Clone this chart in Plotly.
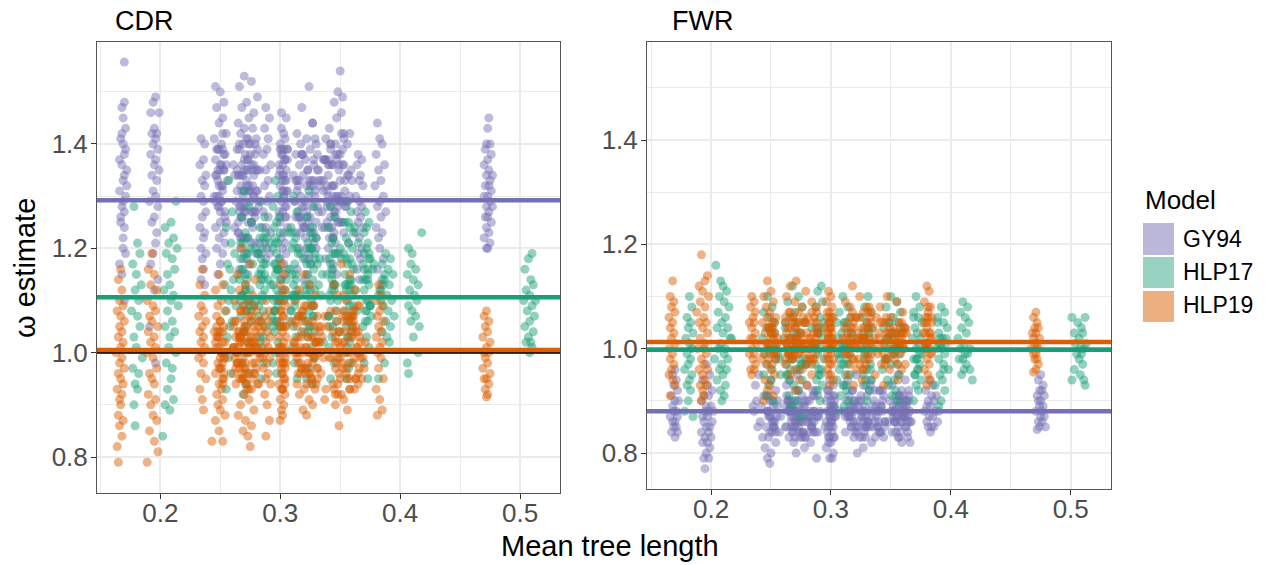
import plotly.graph_objects as go

# ---------------- data ----------------
models = ["GY94", "HLP17", "HLP19"]
model_colors = ["#7570B3", "#1B9E77", "#D95F02"]
legend_fill = ["rgba(117,112,179,0.5)", "rgba(27,158,119,0.45)", "rgba(217,95,2,0.5)"]
panels = ["CDR", "FWR"]

# model mean lines (omega)
cdr_means = [1.292, 1.106, 1.005]
fwr_means = [0.880, 0.998, 1.013]
neutral_line = 1.0

x_ticks = [0.2, 0.3, 0.4, 0.5]
y_ticks = [0.8, 1.0, 1.2, 1.4]

# ---- CDR, GY94 ----
cdr_gy94_y = [
 1.557,1.48,1.47,1.45,1.43,1.41,1.40,1.38,1.36,1.35,
 1.33,1.31,1.30,1.28,1.27,1.25,1.22,1.19,1.15,1.10,
 1.42,1.39,1.37,1.34,1.32,1.29,1.26,1.24,1.20,1.17,
 1.49,1.48,1.46,1.46,1.43,1.42,1.42,1.41,1.40,1.39,
 1.38,1.37,1.36,1.35,1.34,1.33,1.31,1.30,1.29,1.28,
 1.26,1.25,1.23,1.21,1.19,1.17,1.14,1.12,1.05,0.98,
 1.41,1.40,1.37,1.36,1.34,1.33,1.32,1.30,1.29,1.27,
 1.26,1.24,1.23,1.22,1.20,1.19,1.18,1.16,1.14,1.13,
 1.51,1.50,1.48,1.47,1.45,1.44,1.42,1.41,1.40,1.39,
 1.38,1.37,1.36,1.35,1.34,1.33,1.32,1.31,1.30,1.29,
 1.28,1.27,1.25,1.24,1.23,1.22,1.20,1.19,1.17,1.15,
 1.53,1.52,1.51,1.49,1.48,1.47,1.46,1.45,1.44,1.43,
 1.43,1.42,1.41,1.41,1.40,1.40,1.39,1.38,1.38,1.37,
 1.36,1.36,1.35,1.34,1.34,1.33,1.32,1.31,1.31,1.30,
 1.29,1.28,1.28,1.27,1.26,1.25,1.24,1.23,1.22,1.21,
 1.20,1.19,1.19,1.18,1.17,1.16,1.15,1.30,1.35,1.39,
 1.47,1.45,1.43,1.41,1.39,1.38,1.36,1.35,1.33,1.32,
 1.30,1.29,1.27,1.26,1.24,1.23,1.21,1.20,1.19,1.18,
 1.46,1.45,1.42,1.40,1.39,1.38,1.37,1.36,1.35,1.34,
 1.33,1.32,1.31,1.30,1.29,1.28,1.27,1.26,1.25,1.24,
 1.23,1.22,1.21,1.20,1.19,1.18,1.17,1.15,1.14,1.12,
 1.51,1.47,1.44,1.42,1.41,1.40,1.40,1.39,1.38,1.37,
 1.37,1.36,1.35,1.35,1.34,1.33,1.33,1.32,1.31,1.30,
 1.30,1.29,1.28,1.28,1.27,1.26,1.25,1.25,1.24,1.23,
 1.22,1.21,1.20,1.19,1.18,1.17,1.16,1.15,1.14,1.27,
 1.54,1.50,1.49,1.48,1.46,1.45,1.43,1.42,1.41,1.40,
 1.39,1.38,1.37,1.36,1.35,1.34,1.33,1.32,1.31,1.30,
 1.29,1.28,1.27,1.26,1.25,1.24,1.23,1.22,1.21,1.20,
 1.19,1.18,1.17,1.16,1.15,1.36,1.32,1.28,1.25,1.22,
 1.38,1.37,1.36,1.34,1.33,1.32,1.30,1.29,1.28,1.27,
 1.26,1.25,1.24,1.23,1.22,1.20,1.19,1.18,1.16,1.14,
 1.44,1.41,1.40,1.38,1.36,1.35,1.33,1.32,1.30,1.29,
 1.28,1.27,1.26,1.24,1.23,1.22,1.20,1.18,1.16,1.13,
 1.45,1.43,1.40,1.40,1.39,1.38,1.37,1.36,1.35,1.34,
 1.34,1.33,1.32,1.32,1.31,1.30,1.30,1.29,1.28,1.28,
 1.27,1.26,1.26,1.25,1.24,1.23,1.22,1.21,1.20,1.20,
 1.36,1.31,1.25,1.39,1.28,1.33,1.22,1.41,1.30,1.35,
 1.27,1.38,1.24,1.32,1.37,1.29,1.21,1.34,1.40,1.26,
 1.33,1.23,1.36,1.30,1.39,1.27,1.35,1.31,1.25,1.38,
 1.29,1.34,1.42,1.26,1.32,1.37,1.24,1.30,1.36,1.28,
 1.35,1.22,1.31,1.39,1.27,1.33,1.38,1.25,1.29,1.34,
 1.31,1.37,1.26,1.32,1.40,1.28,1.35,1.23,1.30,1.36,
 1.24,1.33,1.38,1.29,1.35,1.27,1.31,1.41,1.26,1.32,
 1.37,1.30,1.25,1.34,1.28,1.39,1.33,1.22,1.36,1.29,
 1.32,1.27,1.35,1.31,1.38,1.24,1.30,1.34,1.28,1.37,
 1.26,1.33,1.29,1.36,1.31,1.25,1.39,1.32,1.27,1.35,
 1.30,1.35,1.22,1.40,1.27,1.33,1.18,1.37,1.25,1.42,
 1.32,1.28,1.38,1.21,1.34,1.26,1.41,1.29,1.36,1.23,
 1.39,1.24,1.31,1.27,1.43,1.34,1.20,1.37,1.29,1.33,
 1.26,1.40,1.35,1.19,1.31,1.38,1.28,1.24,1.36,1.32,
 1.34,1.29,1.22,1.39,1.26,1.31,1.44,1.27,1.33,1.21,
 1.38,1.25,1.32,1.36,1.28,1.23,1.35,1.40,1.30,1.26,
 1.27,1.36,1.41,1.24,1.33,1.29,1.20,1.37,1.31,1.35,
 1.33,1.22,1.28,1.35,1.39,1.32,1.26,1.30,1.42,1.24,
 1.36,1.31,1.25,1.29,1.34,1.38,1.23,1.33,1.27,1.40,
 1.29,1.34,1.37,1.21,1.30,1.26,1.35,1.32,1.39,1.28,
]
cdr_gy94_x = [
 0.170,0.170,0.168,0.169,0.171,0.167,0.169,0.170,0.168,0.172,
 0.169,0.166,0.171,0.168,0.170,0.167,0.169,0.171,0.168,0.170,
 0.168,0.171,0.166,0.170,0.172,0.169,0.167,0.170,0.169,0.166,
 0.196,0.194,0.199,0.192,0.195,0.197,0.193,0.196,0.194,0.198,
 0.192,0.196,0.195,0.199,0.193,0.197,0.194,0.196,0.191,0.198,
 0.195,0.193,0.197,0.196,0.194,0.192,0.198,0.195,0.191,0.196,
 0.234,0.237,0.236,0.233,0.238,0.235,0.237,0.234,0.236,0.238,
 0.235,0.233,0.237,0.236,0.234,0.238,0.235,0.236,0.234,0.237,
 0.246,0.250,0.253,0.247,0.252,0.249,0.255,0.245,0.251,0.248,
 0.254,0.246,0.250,0.253,0.247,0.256,0.249,0.252,0.245,0.251,
 0.248,0.254,0.250,0.246,0.253,0.249,0.247,0.252,0.250,0.248,
 0.270,0.276,0.266,0.281,0.272,0.268,0.278,0.274,0.265,0.270,
 0.277,0.267,0.273,0.280,0.269,0.275,0.266,0.271,0.279,0.273,
 0.268,0.276,0.270,0.265,0.278,0.272,0.267,0.274,0.281,0.269,
 0.275,0.266,0.271,0.279,0.268,0.273,0.277,0.265,0.270,0.276,
 0.267,0.272,0.280,0.269,0.274,0.266,0.271,0.278,0.283,0.264,
 0.288,0.291,0.287,0.290,0.289,0.286,0.292,0.288,0.290,0.287,
 0.291,0.289,0.286,0.290,0.288,0.292,0.287,0.289,0.291,0.288,
 0.301,0.305,0.303,0.300,0.306,0.302,0.304,0.299,0.305,0.302,
 0.304,0.300,0.306,0.303,0.301,0.305,0.302,0.304,0.300,0.306,
 0.303,0.301,0.304,0.302,0.305,0.300,0.303,0.304,0.301,0.302,
 0.324,0.318,0.327,0.314,0.322,0.330,0.317,0.325,0.313,0.321,
 0.328,0.316,0.323,0.331,0.319,0.326,0.314,0.322,0.329,0.317,
 0.324,0.312,0.320,0.327,0.315,0.323,0.330,0.318,0.325,0.313,
 0.321,0.328,0.316,0.324,0.319,0.326,0.314,0.322,0.320,0.332,
 0.350,0.348,0.352,0.345,0.351,0.347,0.341,0.353,0.338,0.346,
 0.342,0.350,0.337,0.344,0.349,0.340,0.354,0.343,0.336,0.347,
 0.351,0.339,0.345,0.342,0.348,0.337,0.353,0.341,0.346,0.340,
 0.349,0.338,0.344,0.343,0.347,0.340,0.345,0.342,0.339,0.344,
 0.365,0.368,0.364,0.367,0.366,0.369,0.363,0.366,0.368,0.364,
 0.367,0.365,0.369,0.363,0.366,0.368,0.365,0.367,0.364,0.366,
 0.381,0.383,0.385,0.380,0.387,0.382,0.384,0.379,0.386,0.383,
 0.381,0.388,0.384,0.380,0.385,0.382,0.383,0.386,0.381,0.384,
 0.474,0.473,0.472,0.475,0.471,0.476,0.473,0.470,0.474,0.477,
 0.472,0.475,0.471,0.474,0.476,0.473,0.470,0.475,0.472,0.477,
 0.474,0.471,0.473,0.476,0.472,0.474,0.470,0.475,0.473,0.472,
 0.251,0.268,0.276,0.303,0.318,0.328,0.344,0.353,0.249,0.272,
 0.279,0.301,0.321,0.333,0.347,0.356,0.254,0.266,0.274,0.305,
 0.316,0.326,0.341,0.351,0.247,0.270,0.281,0.302,0.323,0.331,
 0.345,0.357,0.252,0.267,0.277,0.304,0.319,0.329,0.343,0.354,
 0.250,0.273,0.275,0.300,0.322,0.334,0.348,0.352,0.246,0.269,
 0.280,0.306,0.315,0.327,0.342,0.355,0.253,0.265,0.278,0.302,
 0.320,0.332,0.346,0.350,0.248,0.271,0.274,0.304,0.317,0.325,
 0.340,0.358,0.255,0.268,0.282,0.301,0.324,0.330,0.349,0.353,
 0.251,0.266,0.277,0.303,0.318,0.335,0.344,0.356,0.249,0.270,
 0.279,0.305,0.321,0.328,0.339,0.351,0.252,0.272,0.276,0.300,
 0.247,0.264,0.271,0.279,0.299,0.313,0.324,0.336,0.349,0.358,
 0.252,0.267,0.275,0.283,0.303,0.316,0.329,0.339,0.352,0.345,
 0.249,0.262,0.270,0.277,0.301,0.311,0.322,0.337,0.347,0.360,
 0.254,0.266,0.273,0.284,0.305,0.319,0.331,0.341,0.353,0.344,
 0.246,0.263,0.268,0.281,0.300,0.314,0.327,0.335,0.350,0.357,
 0.253,0.265,0.274,0.278,0.304,0.317,0.323,0.342,0.348,0.346,
 0.250,0.261,0.272,0.285,0.302,0.312,0.330,0.338,0.354,0.359,
 0.248,0.267,0.269,0.280,0.306,0.315,0.325,0.340,0.351,0.343,
 0.255,0.264,0.276,0.282,0.299,0.318,0.328,0.336,0.346,0.356,
 0.251,0.262,0.273,0.279,0.303,0.313,0.332,0.339,0.352,0.348,
]

# ---- CDR, HLP17 ----
cdr_hlp17_y = [
 1.28,1.21,1.19,1.17,1.15,1.13,1.12,1.10,1.08,1.07,
 1.05,1.03,1.01,0.99,0.97,0.96,0.94,0.93,0.90,0.86,
 1.29,1.25,1.24,1.22,1.21,1.20,1.19,1.18,1.16,1.15,
 1.13,1.12,1.11,1.10,1.09,1.08,1.06,1.05,1.04,1.03,
 1.01,1.00,0.98,0.97,0.95,0.93,0.91,0.90,0.89,0.84,
 1.33,1.27,1.24,1.21,1.19,1.17,1.16,1.14,1.13,1.12,
 1.10,1.09,1.08,1.06,1.05,1.03,1.01,0.99,0.96,0.93,
 1.31,1.28,1.26,1.25,1.23,1.22,1.21,1.20,1.19,1.18,
 1.17,1.16,1.15,1.14,1.13,1.12,1.11,1.10,1.09,1.08,
 1.07,1.06,1.05,1.04,1.02,1.00,0.98,0.96,0.94,0.92,
 1.29,1.26,1.24,1.22,1.20,1.19,1.17,1.16,1.14,1.13,
 1.12,1.10,1.09,1.08,1.06,1.05,1.03,1.01,0.98,0.95,
 1.33,1.30,1.28,1.26,1.25,1.24,1.23,1.22,1.21,1.20,
 1.19,1.18,1.17,1.16,1.15,1.14,1.13,1.12,1.11,1.10,
 1.09,1.08,1.07,1.06,1.05,1.04,1.02,1.00,0.98,0.96,
 1.30,1.27,1.24,1.22,1.20,1.19,1.17,1.16,1.15,1.13,
 1.12,1.11,1.10,1.08,1.07,1.05,1.03,1.01,0.98,0.95,
 1.31,1.28,1.26,1.24,1.23,1.22,1.21,1.20,1.19,1.18,
 1.17,1.16,1.15,1.14,1.13,1.12,1.11,1.10,1.09,1.08,
 1.07,1.06,1.05,1.04,1.03,1.01,0.99,0.97,0.95,0.94,
 1.28,1.26,1.24,1.22,1.21,1.19,1.18,1.16,1.15,1.14,
 1.12,1.11,1.10,1.08,1.07,1.05,1.03,1.01,0.98,0.95,
 1.29,1.27,1.25,1.24,1.23,1.22,1.21,1.20,1.19,1.18,
 1.17,1.16,1.15,1.14,1.13,1.12,1.11,1.10,1.09,1.08,
 1.07,1.06,1.05,1.04,1.03,1.02,1.00,0.98,0.97,0.95,
 1.27,1.25,1.23,1.21,1.20,1.18,1.17,1.16,1.14,1.13,
 1.12,1.10,1.09,1.08,1.06,1.05,1.03,1.01,0.98,0.95,
 1.19,1.18,1.17,1.16,1.15,1.14,1.13,1.12,1.11,1.10,
 1.09,1.08,1.07,1.06,1.05,1.04,1.03,1.02,0.98,0.95,
 1.23,1.20,1.19,1.17,1.16,1.15,1.14,1.13,1.12,1.11,
 1.10,1.09,1.08,1.07,1.06,1.05,1.03,1.00,0.98,0.96,
 1.19,1.18,1.16,1.14,1.13,1.12,1.11,1.10,1.10,1.09,
 1.08,1.07,1.06,1.05,1.04,1.03,1.02,1.02,1.01,1.00,
 1.12,1.18,1.06,1.21,1.09,1.15,1.03,1.24,1.11,1.17,
 1.08,1.14,1.20,1.05,1.13,1.19,1.10,1.02,1.16,1.23,
 1.07,1.13,1.18,1.10,1.04,1.15,1.21,1.09,1.12,1.17,
 1.14,1.06,1.19,1.11,1.16,1.08,1.22,1.13,1.01,1.18,
 1.10,1.15,1.05,1.20,1.12,1.07,1.17,1.14,1.09,1.23,
 1.16,1.11,1.04,1.19,1.13,1.08,1.21,1.15,1.10,1.06,
 1.18,1.12,1.25,1.09,1.14,1.03,1.17,1.11,1.20,1.07,
 1.13,1.16,1.08,1.22,1.10,1.15,1.05,1.19,1.12,1.14,
 1.15,1.09,1.21,1.12,1.04,1.18,1.10,1.24,1.07,1.14,
 1.11,1.19,1.06,1.16,1.13,1.02,1.20,1.08,1.17,1.12,
 1.08,1.14,1.22,1.05,1.11,1.17,1.13,1.09,1.19,1.15,
 1.18,1.10,1.13,1.23,1.07,1.15,1.04,1.12,1.16,1.10,
 1.12,1.20,1.08,1.14,1.17,1.11,1.06,1.21,1.09,1.13,
 1.16,1.07,1.14,1.10,1.19,1.13,1.18,1.05,1.15,1.11,
]
cdr_hlp17_x = [
 0.178,0.181,0.183,0.177,0.180,0.184,0.179,0.182,0.176,0.181,
 0.183,0.178,0.180,0.185,0.177,0.182,0.179,0.181,0.178,0.179,
 0.213,0.209,0.204,0.211,0.207,0.214,0.205,0.210,0.212,0.206,
 0.208,0.203,0.211,0.209,0.215,0.206,0.210,0.204,0.212,0.208,
 0.207,0.213,0.205,0.210,0.209,0.206,0.211,0.204,0.208,0.202,
 0.257,0.260,0.255,0.259,0.262,0.256,0.258,0.261,0.254,0.259,
 0.257,0.263,0.255,0.260,0.258,0.256,0.261,0.257,0.259,0.255,
 0.270,0.274,0.268,0.276,0.271,0.273,0.267,0.275,0.270,0.272,
 0.277,0.269,0.273,0.266,0.271,0.275,0.268,0.274,0.270,0.272,
 0.267,0.276,0.271,0.269,0.273,0.270,0.268,0.274,0.271,0.269,
 0.284,0.287,0.283,0.286,0.285,0.282,0.288,0.284,0.286,0.283,
 0.287,0.285,0.282,0.286,0.284,0.288,0.283,0.285,0.286,0.284,
 0.296,0.298,0.294,0.299,0.297,0.295,0.300,0.296,0.298,0.294,
 0.297,0.299,0.295,0.298,0.296,0.300,0.294,0.297,0.299,0.295,
 0.298,0.296,0.293,0.297,0.299,0.295,0.298,0.296,0.294,0.297,
 0.311,0.314,0.309,0.313,0.310,0.315,0.312,0.308,0.313,0.311,
 0.314,0.310,0.312,0.309,0.315,0.311,0.313,0.310,0.312,0.314,
 0.324,0.328,0.322,0.327,0.325,0.330,0.323,0.326,0.329,0.321,
 0.325,0.328,0.323,0.327,0.324,0.329,0.322,0.326,0.328,0.324,
 0.327,0.321,0.325,0.329,0.323,0.326,0.328,0.324,0.322,0.327,
 0.342,0.345,0.340,0.344,0.343,0.346,0.341,0.344,0.339,0.343,
 0.345,0.341,0.342,0.346,0.340,0.344,0.343,0.341,0.345,0.342,
 0.356,0.359,0.354,0.358,0.361,0.355,0.357,0.360,0.353,0.358,
 0.356,0.361,0.354,0.359,0.357,0.355,0.360,0.356,0.358,0.354,
 0.359,0.357,0.355,0.360,0.356,0.358,0.354,0.359,0.357,0.355,
 0.371,0.374,0.370,0.373,0.372,0.375,0.369,0.373,0.371,0.374,
 0.370,0.372,0.375,0.371,0.373,0.369,0.372,0.374,0.370,0.373,
 0.388,0.392,0.385,0.390,0.394,0.387,0.391,0.384,0.389,0.393,
 0.386,0.390,0.395,0.388,0.392,0.385,0.389,0.391,0.387,0.382,
 0.418,0.407,0.410,0.409,0.413,0.406,0.411,0.415,0.408,0.412,
 0.414,0.407,0.410,0.413,0.409,0.416,0.411,0.415,0.406,0.407,
 0.510,0.507,0.504,0.509,0.511,0.505,0.508,0.513,0.503,0.510,
 0.506,0.512,0.508,0.504,0.511,0.507,0.509,0.505,0.510,0.508,
 0.271,0.284,0.297,0.311,0.326,0.343,0.357,0.372,0.268,0.286,
 0.295,0.313,0.324,0.341,0.359,0.370,0.274,0.283,0.298,0.310,
 0.328,0.345,0.355,0.373,0.270,0.287,0.296,0.312,0.322,0.342,
 0.358,0.371,0.273,0.285,0.299,0.309,0.327,0.344,0.356,0.374,
 0.267,0.282,0.294,0.314,0.325,0.340,0.360,0.369,0.275,0.288,
 0.297,0.311,0.323,0.346,0.354,0.372,0.269,0.284,0.300,0.308,
 0.329,0.343,0.357,0.375,0.272,0.286,0.296,0.313,0.326,0.341,
 0.355,0.370,0.276,0.283,0.298,0.310,0.324,0.344,0.358,0.373,
 0.266,0.278,0.291,0.304,0.318,0.333,0.348,0.362,0.376,0.385,
 0.269,0.281,0.294,0.306,0.321,0.336,0.350,0.364,0.378,0.383,
 0.272,0.284,0.289,0.302,0.316,0.331,0.346,0.361,0.374,0.387,
 0.267,0.280,0.292,0.307,0.319,0.335,0.349,0.363,0.377,0.384,
 0.271,0.279,0.295,0.305,0.322,0.334,0.347,0.365,0.375,0.386,
 0.268,0.282,0.290,0.303,0.317,0.332,0.351,0.360,0.373,0.382,
]

# ---- CDR, HLP19 ----
cdr_hlp19_y = [
 1.16,1.14,1.12,1.10,1.09,1.08,1.07,1.06,1.05,1.04,
 1.03,1.02,1.01,1.00,0.99,0.98,0.97,0.96,0.95,0.94,
 0.93,0.92,0.91,0.90,0.88,0.87,0.86,0.84,0.82,0.79,
 1.19,1.16,1.15,1.13,1.12,1.10,1.09,1.08,1.07,1.06,
 1.05,1.04,1.03,1.02,1.01,1.00,0.99,0.97,0.96,0.95,
 0.94,0.92,0.91,0.90,0.88,0.87,0.85,0.83,0.81,0.79,
 1.16,1.13,1.11,1.09,1.08,1.07,1.06,1.05,1.04,1.03,
 1.02,1.01,1.00,0.99,0.98,0.96,0.95,0.93,0.91,0.89,
 1.15,1.13,1.12,1.10,1.09,1.08,1.07,1.06,1.05,1.04,
 1.03,1.02,1.01,1.00,0.99,0.98,0.97,0.96,0.95,0.94,
 0.93,0.92,0.91,0.90,0.89,0.88,0.87,0.85,0.83,0.83,
 1.20,1.17,1.15,1.14,1.13,1.12,1.11,1.10,1.10,1.09,
 1.08,1.08,1.07,1.06,1.06,1.05,1.04,1.04,1.03,1.02,
 1.02,1.01,1.00,1.00,0.99,0.98,0.98,0.97,0.96,0.96,
 0.95,0.94,0.94,0.93,0.92,0.91,0.90,0.89,0.88,0.87,
 0.86,0.85,0.84,0.82,1.05,1.01,0.97,1.03,0.99,0.93,
 1.10,1.08,1.07,1.06,1.05,1.04,1.03,1.02,1.01,1.00,
 0.99,0.98,0.97,0.96,0.95,0.94,0.92,0.90,0.87,0.84,
 1.17,1.15,1.13,1.12,1.11,1.10,1.09,1.08,1.07,1.06,
 1.05,1.04,1.03,1.02,1.01,1.00,0.99,0.98,0.97,0.96,
 0.95,0.94,0.93,0.92,0.91,0.90,0.89,0.88,0.87,0.98,
 1.15,1.13,1.12,1.11,1.10,1.09,1.09,1.08,1.07,1.07,
 1.06,1.05,1.05,1.04,1.03,1.03,1.02,1.01,1.01,1.00,
 1.00,0.99,0.98,0.98,0.97,0.96,0.96,0.95,0.94,0.93,
 0.93,0.92,0.91,0.90,0.89,0.88,1.04,1.00,0.97,1.06,
 1.17,1.15,1.13,1.12,1.11,1.10,1.09,1.08,1.08,1.07,
 1.06,1.06,1.05,1.04,1.04,1.03,1.02,1.02,1.01,1.00,
 1.00,0.99,0.98,0.98,0.97,0.96,0.95,0.95,0.94,0.93,
 0.92,0.91,0.90,0.89,0.86,1.03,0.99,1.07,0.97,0.94,
 1.13,1.11,1.10,1.09,1.08,1.07,1.06,1.05,1.04,1.03,
 1.02,1.01,1.00,0.99,0.97,0.95,0.93,0.91,0.89,0.88,
 1.08,1.07,1.06,1.05,1.04,1.03,1.02,1.01,1.00,1.00,
 0.99,0.98,0.97,0.96,0.95,0.95,0.94,0.93,0.92,0.915,
 1.00,0.96,1.04,0.93,1.07,0.99,1.02,0.95,1.09,0.98,
 1.03,0.94,1.06,1.01,0.97,1.05,0.92,1.08,0.99,1.02,
 0.96,1.04,1.00,0.94,1.07,0.98,1.03,0.95,1.01,1.06,
 0.97,1.02,1.09,0.93,1.00,1.05,0.96,1.03,0.99,1.08,
 1.04,0.95,1.01,0.98,1.06,0.94,1.02,1.07,0.97,1.00,
 0.99,1.03,0.95,1.05,1.01,0.97,1.08,0.93,1.04,0.98,
 1.02,0.96,1.06,1.00,0.94,1.03,0.99,1.07,0.95,1.01,
 1.05,0.98,1.02,0.96,1.09,1.00,0.93,1.04,0.97,1.03,
 0.95,1.01,1.07,0.99,1.03,0.94,1.06,0.98,1.02,1.00,
 1.04,0.97,1.00,1.05,0.96,1.02,0.99,1.08,0.95,1.03,
 1.01,0.97,1.05,0.94,1.08,1.00,0.96,1.03,0.92,1.06,
 0.99,1.04,0.95,1.02,1.10,0.98,1.01,0.93,1.07,1.00,
 1.03,0.96,1.00,1.06,0.97,1.02,1.09,0.95,1.04,0.99,
 0.94,1.01,1.05,0.98,1.03,0.96,1.00,1.07,0.97,1.02,
 1.06,0.99,0.93,1.04,1.01,1.08,0.95,1.02,0.98,1.05,
 1.00,1.03,0.97,1.01,0.95,1.06,1.02,0.99,1.11,0.96,
 1.04,0.98,1.02,0.94,1.07,1.00,0.97,1.05,1.01,0.93,
 0.97,1.05,1.00,1.03,0.98,1.02,1.06,0.96,1.00,1.04,
 1.02,0.95,1.08,0.99,1.01,0.97,1.03,1.00,0.94,1.06,
 0.98,1.03,1.01,0.96,1.05,0.99,1.02,0.91,1.04,1.00,
]
cdr_hlp19_x = [
 0.167,0.165,0.168,0.166,0.169,0.164,0.167,0.170,0.166,0.168,
 0.165,0.169,0.167,0.163,0.168,0.166,0.170,0.165,0.167,0.169,
 0.164,0.168,0.166,0.167,0.165,0.169,0.166,0.168,0.164,0.165,
 0.193,0.190,0.195,0.192,0.197,0.189,0.194,0.196,0.191,0.193,
 0.198,0.190,0.195,0.192,0.196,0.189,0.194,0.197,0.191,0.193,
 0.195,0.190,0.196,0.192,0.194,0.197,0.191,0.195,0.198,0.189,
 0.235,0.233,0.237,0.234,0.236,0.232,0.238,0.235,0.233,0.236,
 0.234,0.237,0.235,0.232,0.236,0.234,0.238,0.233,0.235,0.236,
 0.249,0.252,0.246,0.251,0.248,0.254,0.247,0.250,0.253,0.245,
 0.249,0.252,0.247,0.251,0.254,0.248,0.250,0.246,0.253,0.249,
 0.251,0.247,0.252,0.248,0.250,0.254,0.246,0.249,0.243,0.252,
 0.268,0.275,0.264,0.279,0.271,0.266,0.277,0.273,0.262,0.269,
 0.280,0.267,0.274,0.270,0.263,0.278,0.272,0.265,0.276,0.270,
 0.267,0.281,0.273,0.264,0.269,0.277,0.271,0.266,0.274,0.279,
 0.268,0.272,0.263,0.276,0.270,0.274,0.267,0.278,0.265,0.271,
 0.276,0.269,0.273,0.275,0.282,0.261,0.280,0.266,0.283,0.272,
 0.288,0.291,0.287,0.290,0.286,0.289,0.292,0.288,0.290,0.287,
 0.291,0.289,0.286,0.290,0.288,0.292,0.287,0.289,0.291,0.288,
 0.301,0.303,0.300,0.304,0.302,0.299,0.305,0.301,0.303,0.300,
 0.304,0.302,0.299,0.303,0.301,0.305,0.300,0.302,0.304,0.301,
 0.303,0.299,0.302,0.304,0.300,0.303,0.301,0.302,0.300,0.305,
 0.320,0.325,0.316,0.329,0.313,0.322,0.327,0.318,0.331,0.315,
 0.323,0.328,0.314,0.320,0.326,0.317,0.330,0.322,0.313,0.325,
 0.319,0.328,0.315,0.323,0.331,0.317,0.321,0.326,0.314,0.329,
 0.320,0.316,0.324,0.327,0.319,0.322,0.333,0.312,0.318,0.310,
 0.351,0.358,0.345,0.362,0.348,0.355,0.365,0.342,0.353,0.360,
 0.347,0.356,0.363,0.344,0.350,0.359,0.346,0.354,0.364,0.349,
 0.357,0.343,0.352,0.361,0.346,0.355,0.350,0.363,0.344,0.358,
 0.348,0.353,0.346,0.356,0.349,0.366,0.341,0.361,0.352,0.365,
 0.382,0.384,0.380,0.385,0.383,0.381,0.386,0.382,0.384,0.380,
 0.385,0.383,0.381,0.384,0.382,0.386,0.380,0.383,0.385,0.381,
 0.472,0.470,0.474,0.471,0.473,0.469,0.475,0.472,0.470,0.474,
 0.471,0.473,0.469,0.475,0.472,0.470,0.474,0.471,0.473,0.472,
 0.251,0.268,0.279,0.302,0.318,0.329,0.348,0.358,0.366,0.264,
 0.248,0.272,0.276,0.300,0.321,0.332,0.351,0.361,0.369,0.266,
 0.253,0.270,0.281,0.304,0.316,0.327,0.346,0.356,0.364,0.262,
 0.249,0.274,0.278,0.301,0.323,0.334,0.349,0.360,0.367,0.267,
 0.252,0.269,0.280,0.303,0.319,0.330,0.352,0.357,0.370,0.263,
 0.250,0.273,0.277,0.305,0.317,0.331,0.347,0.362,0.365,0.265,
 0.254,0.271,0.282,0.299,0.322,0.328,0.350,0.355,0.368,0.261,
 0.247,0.268,0.279,0.302,0.320,0.333,0.345,0.359,0.366,0.266,
 0.252,0.275,0.276,0.304,0.315,0.326,0.353,0.357,0.371,0.264,
 0.250,0.270,0.283,0.300,0.324,0.332,0.348,0.361,0.363,0.267,
 0.249,0.263,0.272,0.281,0.300,0.314,0.325,0.335,0.346,0.359,
 0.253,0.266,0.269,0.277,0.303,0.317,0.321,0.338,0.352,0.364,
 0.247,0.261,0.275,0.283,0.301,0.312,0.328,0.331,0.349,0.362,
 0.252,0.265,0.270,0.279,0.305,0.315,0.324,0.337,0.355,0.367,
 0.250,0.262,0.274,0.284,0.299,0.319,0.326,0.333,0.347,0.360,
 0.254,0.267,0.271,0.278,0.304,0.313,0.330,0.336,0.353,0.365,
 0.248,0.264,0.276,0.282,0.302,0.316,0.322,0.339,0.350,0.358,
 0.251,0.261,0.273,0.280,0.300,0.311,0.327,0.334,0.356,0.363,
 0.246,0.266,0.270,0.285,0.303,0.318,0.323,0.332,0.348,0.361,
 0.252,0.263,0.274,0.278,0.301,0.314,0.329,0.337,0.354,0.366,
]

# ---- FWR, GY94 ----
fwr_gy94_y = [
 0.96,0.95,0.94,0.93,0.92,0.91,0.90,0.90,0.89,0.88,
 0.88,0.87,0.87,0.86,0.86,0.85,0.85,0.84,0.84,0.83,
 0.97,0.95,0.94,0.93,0.92,0.91,0.91,0.90,0.89,0.89,
 0.88,0.88,0.87,0.87,0.86,0.86,0.85,0.85,0.84,0.84,
 0.83,0.83,0.82,0.82,0.81,0.80,0.79,0.79,0.77,0.88,
 0.95,0.94,0.93,0.92,0.91,0.91,0.90,0.90,0.89,0.89,
 0.88,0.88,0.87,0.87,0.86,0.86,0.85,0.85,0.84,0.84,
 0.83,0.83,0.82,0.81,0.80,0.79,0.78,0.87,0.89,0.85,
 0.95,0.94,0.93,0.93,0.92,0.92,0.91,0.91,0.90,0.90,
 0.90,0.89,0.89,0.89,0.88,0.88,0.88,0.87,0.87,0.87,
 0.86,0.86,0.86,0.85,0.85,0.85,0.84,0.84,0.83,0.83,
 0.82,0.82,0.81,0.80,0.79,0.90,0.88,0.86,0.84,0.87,
 0.89,0.85,0.91,0.83,0.88,0.86,0.90,0.84,0.87,0.92,
 0.94,0.93,0.92,0.91,0.91,0.90,0.90,0.89,0.89,0.88,
 0.88,0.87,0.87,0.86,0.86,0.85,0.85,0.84,0.84,0.83,
 0.83,0.82,0.82,0.81,0.80,0.79,0.79,0.87,0.85,0.89,
 0.95,0.94,0.94,0.93,0.93,0.92,0.92,0.91,0.91,0.90,
 0.90,0.90,0.89,0.89,0.89,0.88,0.88,0.88,0.87,0.87,
 0.87,0.86,0.86,0.86,0.85,0.85,0.85,0.84,0.84,0.83,
 0.83,0.82,0.81,0.80,0.90,0.88,0.86,0.87,0.89,0.85,
 0.91,0.84,0.88,0.86,0.92,0.87,0.89,0.85,0.83,0.90,
 0.95,0.94,0.93,0.92,0.92,0.91,0.91,0.90,0.90,0.89,
 0.89,0.88,0.88,0.88,0.87,0.87,0.87,0.86,0.86,0.86,
 0.85,0.85,0.84,0.84,0.83,0.89,0.87,0.90,0.86,0.88,
 0.94,0.93,0.92,0.91,0.91,0.90,0.90,0.89,0.89,0.88,
 0.88,0.87,0.87,0.86,0.86,0.85,0.85,0.85,0.84,0.88,
 0.95,0.94,0.93,0.92,0.92,0.91,0.91,0.90,0.90,0.89,
 0.89,0.88,0.88,0.87,0.87,0.86,0.86,0.85,0.85,0.845,
 0.87,0.84,0.90,0.86,0.92,0.85,0.88,0.83,0.89,0.86,
 0.91,0.87,0.84,0.89,0.85,0.93,0.88,0.82,0.86,0.90,
 0.85,0.89,0.87,0.83,0.91,0.86,0.88,0.84,0.90,0.87,
 0.88,0.85,0.92,0.87,0.84,0.89,0.86,0.91,0.83,0.88,
 0.86,0.90,0.84,0.88,0.87,0.85,0.92,0.86,0.89,0.84,
 0.89,0.86,0.88,0.91,0.85,0.87,0.83,0.90,0.86,0.88,
 0.84,0.88,0.86,0.90,0.87,0.92,0.85,0.89,0.87,0.83,
 0.90,0.87,0.85,0.88,0.86,0.84,0.89,0.87,0.91,0.85,
 0.86,0.89,0.84,0.91,0.87,0.85,0.88,0.83,0.90,0.86,
 0.88,0.85,0.90,0.87,0.83,0.89,0.86,0.92,0.84,0.88,
 0.84,0.91,0.86,0.88,0.85,0.87,0.90,0.86,0.88,0.82,
 0.90,0.87,0.83,0.86,0.89,0.84,0.87,0.85,0.91,0.87,
 0.85,0.88,0.87,0.84,0.92,0.86,0.83,0.89,0.86,0.90,
 0.87,0.83,0.89,0.85,0.86,0.90,0.88,0.84,0.87,0.85,
]
fwr_gy94_x = [
 0.170,0.168,0.171,0.169,0.172,0.167,0.170,0.173,0.168,0.171,
 0.169,0.172,0.166,0.170,0.168,0.171,0.169,0.167,0.172,0.170,
 0.196,0.199,0.193,0.197,0.201,0.194,0.198,0.192,0.196,0.200,
 0.195,0.198,0.193,0.197,0.201,0.194,0.199,0.196,0.192,0.198,
 0.195,0.200,0.193,0.197,0.199,0.196,0.194,0.198,0.195,0.202,
 0.240,0.250,0.237,0.254,0.244,0.248,0.238,0.256,0.252,0.242,
 0.247,0.236,0.255,0.249,0.241,0.253,0.239,0.246,0.257,0.251,
 0.243,0.248,0.254,0.245,0.250,0.247,0.249,0.258,0.235,0.252,
 0.272,0.266,0.280,0.263,0.285,0.270,0.276,0.289,0.264,0.273,
 0.282,0.268,0.278,0.262,0.286,0.271,0.266,0.281,0.275,0.290,
 0.267,0.279,0.273,0.263,0.284,0.270,0.277,0.287,0.265,0.274,
 0.283,0.269,0.278,0.271,0.288,0.264,0.291,0.276,0.268,0.281,
 0.274,0.262,0.286,0.279,0.267,0.284,0.270,0.277,0.289,0.273,
 0.299,0.302,0.297,0.301,0.298,0.303,0.296,0.300,0.302,0.297,
 0.301,0.299,0.303,0.296,0.300,0.298,0.302,0.297,0.301,0.299,
 0.303,0.298,0.300,0.296,0.302,0.299,0.301,0.304,0.295,0.300,
 0.321,0.314,0.333,0.327,0.311,0.340,0.318,0.330,0.344,0.323,
 0.313,0.336,0.328,0.316,0.342,0.320,0.333,0.311,0.326,0.338,
 0.315,0.331,0.345,0.322,0.317,0.335,0.328,0.312,0.340,0.324,
 0.319,0.334,0.327,0.322,0.343,0.314,0.337,0.329,0.318,0.332,
 0.325,0.341,0.316,0.330,0.336,0.312,0.323,0.339,0.326,0.320,
 0.356,0.362,0.351,0.359,0.365,0.354,0.360,0.349,0.363,0.357,
 0.352,0.366,0.358,0.350,0.361,0.355,0.364,0.353,0.359,0.348,
 0.362,0.356,0.351,0.364,0.357,0.360,0.354,0.363,0.358,0.352,
 0.382,0.385,0.379,0.384,0.388,0.381,0.386,0.380,0.383,0.387,
 0.378,0.385,0.382,0.389,0.380,0.384,0.386,0.381,0.383,0.390,
 0.475,0.473,0.477,0.474,0.476,0.472,0.478,0.475,0.473,0.477,
 0.474,0.476,0.471,0.475,0.478,0.473,0.476,0.474,0.479,0.472,
 0.250,0.268,0.280,0.300,0.318,0.329,0.340,0.356,0.363,0.274,
 0.246,0.271,0.285,0.302,0.321,0.333,0.343,0.359,0.366,0.265,
 0.253,0.266,0.283,0.298,0.315,0.327,0.338,0.354,0.361,0.277,
 0.248,0.273,0.287,0.301,0.320,0.335,0.345,0.357,0.364,0.269,
 0.252,0.267,0.282,0.299,0.317,0.330,0.341,0.353,0.362,0.275,
 0.255,0.270,0.286,0.303,0.323,0.326,0.344,0.358,0.367,0.264,
 0.249,0.272,0.281,0.300,0.316,0.332,0.339,0.355,0.360,0.278,
 0.251,0.269,0.284,0.302,0.319,0.328,0.342,0.352,0.365,0.267,
 0.251,0.266,0.274,0.285,0.299,0.317,0.328,0.337,0.355,0.364,
 0.247,0.269,0.278,0.288,0.302,0.320,0.331,0.343,0.358,0.361,
 0.254,0.263,0.271,0.283,0.300,0.314,0.325,0.340,0.352,0.366,
 0.249,0.267,0.276,0.286,0.303,0.322,0.334,0.345,0.357,0.362,
 0.252,0.265,0.273,0.289,0.298,0.316,0.329,0.338,0.354,0.365,
 0.248,0.270,0.277,0.284,0.301,0.319,0.326,0.342,0.359,0.363,
]

# ---- FWR, HLP17 ----
fwr_hlp17_y = [
 1.10,1.08,1.06,1.05,1.04,1.03,1.02,1.01,1.00,0.99,
 0.98,0.97,0.96,0.95,0.94,0.93,0.92,0.90,0.88,0.87,
 1.16,1.13,1.12,1.11,1.10,1.09,1.08,1.07,1.06,1.05,
 1.04,1.04,1.03,1.02,1.01,1.00,1.00,0.99,0.98,0.97,
 0.96,0.96,0.95,0.94,0.93,0.92,0.91,0.90,1.02,0.98,
 1.10,1.08,1.07,1.06,1.05,1.04,1.03,1.02,1.01,1.00,
 0.99,0.99,0.98,0.97,0.96,0.95,0.94,0.93,0.91,0.90,
 1.12,1.10,1.09,1.08,1.07,1.06,1.05,1.05,1.04,1.03,
 1.03,1.02,1.01,1.01,1.00,1.00,0.99,0.98,0.98,0.97,
 0.96,0.96,0.95,0.94,0.93,0.92,0.91,0.90,0.89,0.87,
 1.12,1.11,1.09,1.08,1.06,1.05,1.04,1.03,1.02,1.01,
 1.00,0.99,0.98,0.97,0.96,0.95,0.94,0.93,0.92,0.90,
 1.10,1.08,1.07,1.06,1.05,1.05,1.04,1.03,1.03,1.02,
 1.01,1.01,1.00,1.00,0.99,0.99,0.98,0.97,0.97,0.96,
 0.95,0.95,0.94,0.93,0.92,0.91,0.90,0.89,0.88,1.02,
 1.10,1.08,1.07,1.06,1.05,1.04,1.03,1.02,1.01,1.00,
 1.00,0.99,0.98,0.97,0.96,0.95,0.94,0.93,0.92,0.90,
 1.10,1.09,1.08,1.07,1.06,1.05,1.05,1.04,1.03,1.03,
 1.02,1.02,1.01,1.01,1.00,1.00,0.99,0.99,0.98,0.97,
 0.97,0.96,0.95,0.94,0.93,0.92,0.91,0.90,1.04,0.98,
 1.10,1.08,1.07,1.06,1.05,1.04,1.03,1.02,1.02,1.01,
 1.00,0.99,0.98,0.97,0.96,0.95,0.94,0.93,0.92,0.90,
 1.08,1.07,1.06,1.05,1.04,1.03,1.02,1.01,1.00,1.00,
 0.99,0.98,0.97,0.96,0.95,0.94,0.93,0.92,0.90,0.89,
 1.09,1.08,1.07,1.06,1.05,1.04,1.03,1.02,1.01,1.00,
 1.00,0.99,0.99,0.98,0.98,0.97,0.96,0.96,0.95,0.94,
 1.06,1.06,1.05,1.04,1.03,1.03,1.02,1.01,1.01,1.00,
 1.00,0.99,0.99,0.98,0.97,0.96,0.95,0.94,0.94,0.93,
 0.99,1.03,0.96,1.01,0.94,1.05,0.98,1.02,0.95,1.00,
 1.04,0.97,1.01,0.93,1.03,0.99,1.06,0.96,1.02,0.98,
 0.95,1.00,1.04,0.97,1.02,0.94,0.99,1.05,0.98,1.01,
 1.03,0.96,1.00,0.98,1.04,1.01,0.95,1.02,0.97,1.00,
 0.98,1.02,0.95,1.05,0.99,1.03,0.96,1.01,0.94,1.04,
 1.00,0.97,1.03,0.99,0.96,1.02,0.98,1.01,1.05,0.97,
]
fwr_hlp17_x = [
 0.182,0.184,0.180,0.183,0.181,0.185,0.179,0.182,0.184,0.180,
 0.183,0.181,0.178,0.184,0.182,0.180,0.183,0.181,0.178,0.185,
 0.204,0.208,0.210,0.213,0.207,0.211,0.215,0.206,0.212,0.209,
 0.214,0.205,0.210,0.216,0.208,0.212,0.206,0.211,0.214,0.209,
 0.207,0.213,0.210,0.205,0.212,0.208,0.211,0.209,0.217,0.203,
 0.247,0.251,0.244,0.249,0.253,0.246,0.250,0.243,0.248,0.252,
 0.245,0.249,0.254,0.247,0.251,0.244,0.250,0.248,0.246,0.252,
 0.268,0.273,0.264,0.276,0.270,0.266,0.278,0.272,0.262,0.269,
 0.275,0.267,0.271,0.263,0.277,0.270,0.265,0.274,0.268,0.279,
 0.266,0.272,0.263,0.276,0.269,0.273,0.265,0.271,0.267,0.275,
 0.292,0.289,0.293,0.287,0.291,0.294,0.288,0.290,0.293,0.286,
 0.291,0.289,0.294,0.287,0.292,0.290,0.288,0.293,0.289,0.291,
 0.310,0.314,0.307,0.316,0.311,0.305,0.313,0.309,0.317,0.306,
 0.312,0.315,0.308,0.311,0.316,0.306,0.313,0.309,0.314,0.307,
 0.312,0.316,0.305,0.310,0.313,0.308,0.315,0.311,0.307,0.318,
 0.331,0.328,0.333,0.326,0.330,0.334,0.327,0.332,0.329,0.335,
 0.326,0.331,0.328,0.333,0.330,0.327,0.334,0.329,0.332,0.330,
 0.350,0.355,0.346,0.358,0.352,0.348,0.356,0.344,0.353,0.359,
 0.347,0.351,0.357,0.345,0.354,0.349,0.358,0.352,0.346,0.355,
 0.350,0.343,0.357,0.353,0.348,0.354,0.351,0.356,0.360,0.345,
 0.371,0.374,0.369,0.373,0.376,0.370,0.372,0.375,0.368,0.373,
 0.371,0.376,0.369,0.374,0.372,0.370,0.375,0.371,0.373,0.369,
 0.392,0.395,0.389,0.394,0.397,0.390,0.393,0.396,0.388,0.392,
 0.395,0.390,0.394,0.398,0.391,0.393,0.387,0.395,0.392,0.390,
 0.410,0.414,0.408,0.412,0.415,0.409,0.413,0.406,0.411,0.416,
 0.408,0.412,0.414,0.410,0.407,0.413,0.411,0.416,0.409,0.418,
 0.501,0.512,0.506,0.509,0.503,0.510,0.507,0.513,0.504,0.508,
 0.511,0.505,0.509,0.507,0.510,0.503,0.508,0.501,0.511,0.512,
 0.256,0.272,0.290,0.309,0.329,0.349,0.372,0.391,0.264,0.283,
 0.251,0.275,0.288,0.313,0.332,0.353,0.369,0.394,0.261,0.279,
 0.258,0.270,0.292,0.311,0.326,0.347,0.374,0.389,0.266,0.285,
 0.253,0.274,0.287,0.307,0.331,0.355,0.370,0.396,0.263,0.281,
 0.257,0.271,0.291,0.312,0.328,0.351,0.373,0.392,0.265,0.284,
 0.254,0.276,0.289,0.308,0.333,0.346,0.371,0.390,0.262,0.280,
]

# ---- FWR, HLP19 ----
fwr_hlp19_y = [
 1.13,1.10,1.09,1.08,1.07,1.06,1.05,1.04,1.03,1.02,
 1.01,1.00,0.99,0.98,0.97,0.96,0.95,0.94,0.93,0.91,
 1.18,1.14,1.13,1.12,1.11,1.10,1.09,1.08,1.07,1.06,
 1.05,1.05,1.04,1.03,1.02,1.01,1.00,1.00,0.99,0.98,
 0.97,0.96,0.96,0.95,0.94,0.93,0.93,0.92,0.91,0.90,
 1.10,1.09,1.08,1.07,1.06,1.05,1.05,1.04,1.03,1.02,
 1.02,1.01,1.00,0.99,0.99,0.98,0.97,0.96,0.96,0.95,
 1.13,1.11,1.10,1.09,1.08,1.07,1.06,1.05,1.05,1.04,
 1.03,1.03,1.02,1.01,1.01,1.00,0.99,0.99,0.98,0.97,
 0.97,0.96,0.95,0.94,0.93,0.92,0.91,0.90,1.02,0.98,
 1.13,1.12,1.11,1.10,1.09,1.09,1.08,1.08,1.07,1.07,
 1.06,1.06,1.05,1.05,1.05,1.04,1.04,1.03,1.03,1.03,
 1.02,1.02,1.02,1.01,1.01,1.01,1.00,1.00,1.00,0.99,
 0.99,0.98,0.98,0.97,0.97,0.96,0.96,0.95,0.95,0.94,
 0.93,0.92,1.04,1.02,1.00,0.98,1.06,1.03,1.01,0.99,
 1.11,1.10,1.09,1.08,1.07,1.06,1.06,1.05,1.05,1.04,
 1.04,1.03,1.03,1.02,1.02,1.01,1.01,1.00,1.00,0.99,
 0.99,0.98,0.98,0.97,0.97,0.96,0.95,0.95,0.94,0.93,
 1.12,1.10,1.09,1.08,1.08,1.07,1.06,1.06,1.05,1.05,
 1.04,1.04,1.03,1.03,1.03,1.02,1.02,1.01,1.01,1.01,
 1.00,1.00,0.99,0.99,0.98,0.98,0.97,0.97,0.96,0.96,
 0.95,0.94,0.93,1.04,1.02,1.00,0.98,1.06,1.02,0.99,
 1.10,1.09,1.08,1.07,1.06,1.06,1.05,1.05,1.04,1.04,
 1.03,1.03,1.02,1.02,1.01,1.01,1.00,1.00,0.99,0.99,
 0.98,0.98,0.97,0.96,0.96,0.95,0.94,0.93,1.03,1.00,
 1.12,1.11,1.09,1.08,1.07,1.06,1.05,1.04,1.03,1.03,
 1.02,1.01,1.00,0.99,0.98,0.97,0.96,0.95,0.94,0.93,
 1.07,1.06,1.05,1.04,1.04,1.03,1.03,1.02,1.02,1.01,
 1.01,1.00,1.00,0.99,0.99,0.98,0.98,0.97,0.96,0.955,
 1.02,0.98,1.05,1.00,1.07,0.97,1.03,1.01,1.06,0.99,
 1.04,1.00,0.97,1.06,1.02,1.08,0.99,1.03,1.01,1.05,
 0.98,1.04,1.02,1.07,1.00,0.96,1.05,1.03,0.99,1.01,
 1.06,1.02,0.98,1.04,1.01,1.07,1.03,0.97,1.05,1.00,
 1.03,0.99,1.06,1.01,1.04,0.98,1.02,1.05,1.00,1.07,
 1.01,1.05,0.99,1.03,1.06,1.02,0.97,1.04,1.01,0.99,
 1.04,1.00,1.07,1.02,0.98,1.05,1.03,1.00,1.06,1.02,
 0.99,1.03,1.01,1.05,1.02,1.04,0.98,1.01,1.03,1.06,
 1.03,1.00,1.06,0.98,1.04,1.01,1.07,0.99,1.02,1.05,
 1.01,1.05,0.99,1.03,1.00,1.06,1.02,1.04,0.97,1.03,
 1.05,0.98,1.02,1.07,1.01,1.03,0.99,1.05,1.02,1.00,
 1.00,1.04,1.01,0.99,1.06,1.02,1.04,1.00,1.03,1.08,
 1.04,1.02,1.05,1.01,0.98,1.04,1.01,1.06,1.00,1.02,
 0.99,1.03,1.00,1.05,1.02,0.99,1.05,1.02,1.04,1.01,
]
fwr_hlp19_x = [
 0.168,0.166,0.169,0.167,0.170,0.165,0.168,0.166,0.169,0.167,
 0.170,0.165,0.168,0.166,0.169,0.167,0.165,0.168,0.170,0.166,
 0.192,0.197,0.195,0.190,0.193,0.198,0.191,0.195,0.188,0.194,
 0.196,0.190,0.193,0.197,0.191,0.195,0.189,0.194,0.196,0.192,
 0.194,0.190,0.197,0.193,0.195,0.191,0.196,0.193,0.194,0.192,
 0.234,0.236,0.233,0.237,0.235,0.232,0.236,0.234,0.237,0.233,
 0.235,0.238,0.234,0.236,0.232,0.235,0.237,0.233,0.236,0.234,
 0.247,0.250,0.244,0.252,0.246,0.249,0.254,0.243,0.251,0.248,
 0.253,0.245,0.250,0.247,0.255,0.249,0.244,0.252,0.248,0.251,
 0.246,0.250,0.253,0.245,0.249,0.247,0.252,0.244,0.256,0.242,
 0.271,0.266,0.279,0.263,0.284,0.270,0.276,0.288,0.265,0.273,
 0.281,0.268,0.262,0.277,0.286,0.271,0.264,0.280,0.274,0.289,
 0.267,0.283,0.272,0.263,0.278,0.287,0.269,0.275,0.282,0.265,
 0.273,0.285,0.268,0.279,0.262,0.276,0.270,0.284,0.266,0.274,
 0.280,0.271,0.289,0.264,0.277,0.283,0.269,0.286,0.272,0.267,
 0.298,0.300,0.296,0.301,0.299,0.297,0.302,0.298,0.300,0.295,
 0.299,0.301,0.297,0.300,0.298,0.302,0.296,0.299,0.301,0.297,
 0.300,0.298,0.296,0.301,0.299,0.297,0.300,0.298,0.302,0.299,
 0.318,0.324,0.312,0.330,0.316,0.327,0.321,0.333,0.314,0.319,
 0.326,0.311,0.323,0.331,0.317,0.328,0.313,0.320,0.334,0.325,
 0.315,0.322,0.329,0.312,0.318,0.332,0.324,0.316,0.327,0.321,
 0.314,0.326,0.319,0.335,0.310,0.330,0.323,0.317,0.328,0.313,
 0.347,0.355,0.341,0.360,0.350,0.338,0.357,0.345,0.362,0.352,
 0.340,0.358,0.348,0.336,0.355,0.344,0.361,0.351,0.339,0.357,
 0.346,0.353,0.342,0.359,0.349,0.337,0.356,0.344,0.363,0.340,
 0.380,0.382,0.378,0.383,0.381,0.379,0.384,0.380,0.382,0.377,
 0.383,0.381,0.379,0.384,0.380,0.382,0.378,0.381,0.383,0.380,
 0.471,0.469,0.472,0.470,0.473,0.468,0.471,0.474,0.469,0.472,
 0.470,0.473,0.467,0.471,0.469,0.472,0.470,0.473,0.471,0.469,
 0.252,0.268,0.279,0.299,0.318,0.329,0.346,0.358,0.381,0.265,
 0.249,0.272,0.284,0.301,0.322,0.332,0.351,0.355,0.379,0.270,
 0.254,0.266,0.287,0.297,0.315,0.327,0.343,0.361,0.383,0.263,
 0.247,0.274,0.281,0.300,0.320,0.334,0.348,0.356,0.378,0.268,
 0.251,0.269,0.286,0.302,0.317,0.330,0.353,0.359,0.382,0.266,
 0.255,0.273,0.280,0.298,0.324,0.328,0.345,0.362,0.380,0.264,
 0.248,0.267,0.288,0.301,0.319,0.333,0.350,0.357,0.384,0.271,
 0.253,0.275,0.283,0.299,0.316,0.331,0.347,0.360,0.379,0.262,
 0.250,0.264,0.277,0.286,0.300,0.317,0.331,0.344,0.357,0.380,
 0.246,0.268,0.273,0.289,0.297,0.321,0.326,0.349,0.362,0.383,
 0.253,0.262,0.281,0.284,0.301,0.314,0.334,0.341,0.359,0.378,
 0.248,0.270,0.275,0.287,0.299,0.323,0.328,0.352,0.355,0.381,
 0.251,0.266,0.279,0.285,0.302,0.319,0.332,0.346,0.361,0.384,
 0.254,0.263,0.276,0.288,0.298,0.315,0.330,0.340,0.358,0.379,
]

# ---------------- figure ----------------
W, H = 1265, 565
FONT = "Liberation Sans, Arial, Helvetica, sans-serif"

def px_x(p):
    return p / W

def px_y(p):
    return (H - p) / H

panel_data = {
    "CDR": [(cdr_gy94_x, cdr_gy94_y), (cdr_hlp17_x, cdr_hlp17_y), (cdr_hlp19_x, cdr_hlp19_y)],
    "FWR": [(fwr_gy94_x, fwr_gy94_y), (fwr_hlp17_x, fwr_hlp17_y), (fwr_hlp19_x, fwr_hlp19_y)],
}
panel_means = {"CDR": cdr_means, "FWR": fwr_means}
axis_ids = {"CDR": ("x", "y"), "FWR": ("x2", "y2")}

fig = go.Figure()
for pname in panels:
    xa, ya = axis_ids[pname]
    for mi, (xs, ys) in enumerate(panel_data[pname]):
        n = min(len(xs), len(ys))
        fig.add_trace(go.Scatter(
            x=xs[:n], y=ys[:n], mode="markers", xaxis=xa, yaxis=ya,
            name=models[mi], showlegend=False,
            marker=dict(size=9, color=model_colors[mi], opacity=0.48, line=dict(width=0)),
            hoverinfo="skip",
        ))

shapes = []
for pname in panels:
    xa, ya = axis_ids[pname]
    shapes.append(dict(type="line", xref=f"{xa} domain", yref=ya, x0=0, x1=1,
                       y0=neutral_line, y1=neutral_line, line=dict(color="black", width=2)))
    for mi, m in enumerate(panel_means[pname]):
        shapes.append(dict(type="line", xref=f"{xa} domain", yref=ya, x0=0, x1=1,
                           y0=m, y1=m, line=dict(color=model_colors[mi], width=4.5)))

# legend swatches
swatch_rows = [(223, 255), (257, 288), (291, 322)]
for mi, (t, b) in enumerate(swatch_rows):
    shapes.append(dict(type="rect", xref="paper", yref="paper",
                       x0=px_x(1143), x1=px_x(1174), y0=px_y(b), y1=px_y(t),
                       fillcolor=legend_fill[mi], line=dict(width=0)))

annotations = [
    dict(text="CDR", x=px_x(113), y=px_y(21), xref="paper", yref="paper",
         xanchor="left", yanchor="middle", showarrow=False,
         font=dict(family=FONT, size=27, color="black")),
    dict(text="FWR", x=px_x(670), y=px_y(21), xref="paper", yref="paper",
         xanchor="left", yanchor="middle", showarrow=False,
         font=dict(family=FONT, size=27, color="black")),
    dict(text="Mean tree length", x=px_x(610), y=px_y(546), xref="paper", yref="paper",
         xanchor="center", yanchor="middle", showarrow=False,
         font=dict(family=FONT, size=29, color="black")),
    dict(text="ω estimate", x=px_x(25), y=px_y(268), xref="paper", yref="paper",
         xanchor="center", yanchor="middle", showarrow=False, textangle=-90,
         font=dict(family=FONT, size=29, color="black")),
    dict(text="Model", x=px_x(1143), y=px_y(200), xref="paper", yref="paper",
         xanchor="left", yanchor="middle", showarrow=False,
         font=dict(family=FONT, size=26, color="black")),
]
label_y = [239, 272, 305]
for mi, m in enumerate(models):
    annotations.append(dict(text=m, x=px_x(1181), y=px_y(label_y[mi]), xref="paper", yref="paper",
                            xanchor="left", yanchor="middle", showarrow=False,
                            font=dict(family=FONT, size=23, color="black")))

common_x = dict(
    tickvals=x_ticks, ticktext=[f"{v:.1f}" for v in x_ticks],
    showgrid=True, gridcolor="#EBEBEB", gridwidth=1.6,
    minor=dict(tickvals=[0.15, 0.25, 0.35, 0.45], showgrid=True, gridcolor="#EBEBEB", gridwidth=0.8, ticks=""),
    ticks="outside", ticklen=5, tickwidth=1, tickcolor="#333333",
    tickfont=dict(family=FONT, size=26, color="#4D4D4D"),
    ticklabelstandoff=-8,
    showline=True, linecolor="#555555", linewidth=1, mirror=True, zeroline=False,
)
common_y = dict(
    tickvals=y_ticks, ticktext=[f"{v:.1f}" for v in y_ticks],
    showgrid=True, gridcolor="#EBEBEB", gridwidth=1.6,
    minor=dict(tickvals=[0.9, 1.1, 1.3, 1.5], showgrid=True, gridcolor="#EBEBEB", gridwidth=0.8, ticks=""),
    ticks="outside", ticklen=5, tickwidth=1, tickcolor="#333333",
    tickfont=dict(family=FONT, size=26, color="#4D4D4D"),
    ticklabelstandoff=-2,
    showline=True, linecolor="#555555", linewidth=1, mirror=True, zeroline=False,
)

fig.update_layout(
    width=W, height=H, autosize=False,
    margin=dict(l=0, r=0, t=0, b=0),
    paper_bgcolor="white", plot_bgcolor="white",
    showlegend=False,
    xaxis=dict(domain=[px_x(97), px_x(560)], range=[0.1472, 0.5333], anchor="y", **common_x),
    yaxis=dict(domain=[px_y(493), px_y(42)], range=[0.731, 1.5955], anchor="x", **common_y),
    xaxis2=dict(domain=[px_x(647), px_x(1111)], range=[0.1466, 0.5336], anchor="y2", **common_x),
    yaxis2=dict(domain=[px_y(489), px_y(42)], range=[0.731, 1.588], anchor="x2", **common_y),
    shapes=shapes,
    annotations=annotations,
)

fig.write_html("out.html")
